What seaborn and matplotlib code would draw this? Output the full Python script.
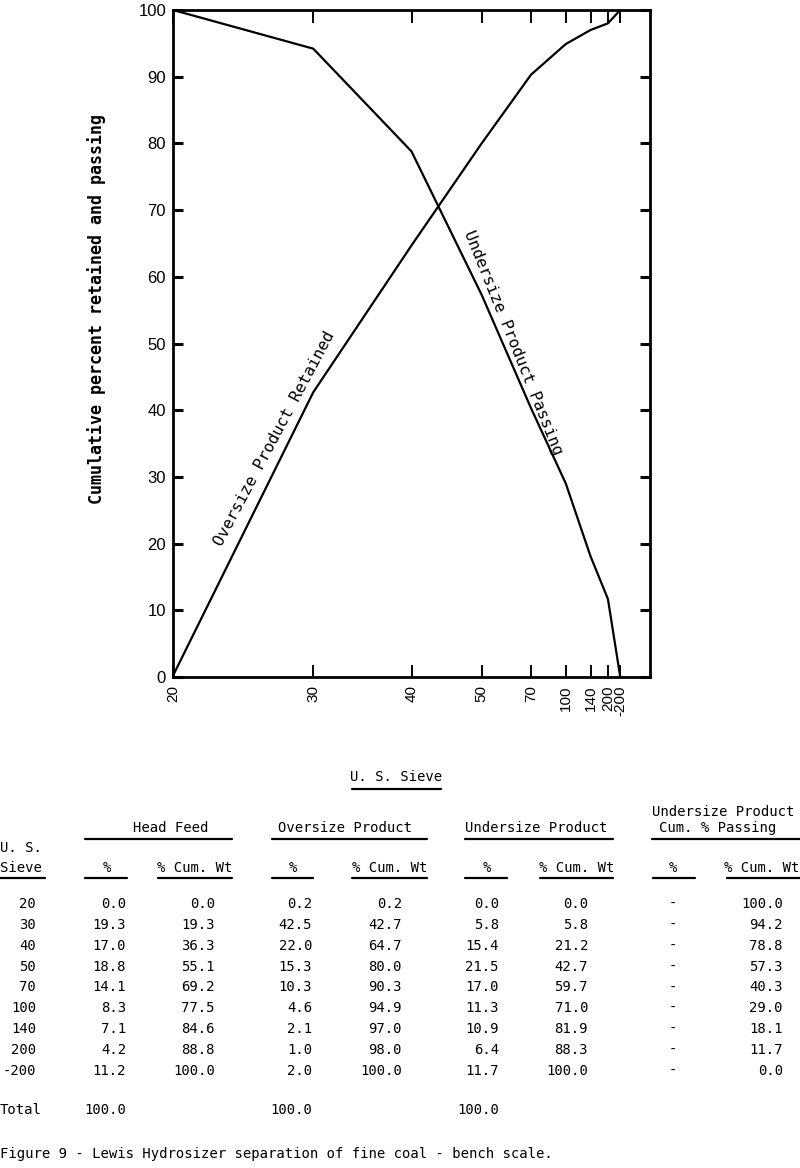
import matplotlib
matplotlib.use("Agg")
import matplotlib.pyplot as plt
from matplotlib.lines import Line2D
import seaborn as sns
import pandas as pd

# ---------------- data ----------------
sieve_labels = ["20", "30", "40", "50", "70", "100", "140", "200", "-200"]
# sieve opening (micrometres) used as the x scale of the chart (-200 plotted at 270 mesh, 53 um)
sieve_opening = [850, 600, 425, 300, 212, 150, 106, 75, 53]
head_pct = ["0.0", "19.3", "17.0", "18.8", "14.1", "8.3", "7.1", "4.2", "11.2"]
head_cum = ["0.0", "19.3", "36.3", "55.1", "69.2", "77.5", "84.6", "88.8", "100.0"]
over_pct = ["0.2", "42.5", "22.0", "15.3", "10.3", "4.6", "2.1", "1.0", "2.0"]
over_cum = [0.2, 42.7, 64.7, 80.0, 90.3, 94.9, 97.0, 98.0, 100.0]
under_pct = ["0.0", "5.8", "15.4", "21.5", "17.0", "11.3", "10.9", "6.4", "11.7"]
under_cum = ["0.0", "5.8", "21.2", "42.7", "59.7", "71.0", "81.9", "88.3", "100.0"]
pass_pct = ["-"] * 9
pass_cum = [100.0, 94.2, 78.8, 57.3, 40.3, 29.0, 18.1, 11.7, 0.0]
totals = {"head": "100.0", "over": "100.0", "under": "100.0"}
y_ticks = [0, 10, 20, 30, 40, 50, 60, 70, 80, 90, 100]

# ---------------- style ----------------
sns.set_style("ticks")
plt.rcParams["font.family"] = ["Liberation Sans Narrow", "Liberation Sans", "DejaVu Sans"]
plt.rcParams["text.color"] = "black"
MONO = ["DejaVu Sans Mono", "Liberation Mono"]

W, H = 800, 1168
fig = plt.figure(figsize=(W / 100, H / 100), dpi=100)
fig.patch.set_facecolor("white")


def fx(x):
    return x / W


def fy(y):
    return 1 - y / H


ax = fig.add_axes([fx(173), fy(677), (650 - 173) / W, (677 - 10) / H])

df = pd.DataFrame({"opening": sieve_opening, "over": over_cum, "passing": pass_cum})
sns.lineplot(data=df, x="opening", y="over", ax=ax, color="black", lw=1.6, sort=False)
sns.lineplot(data=df, x="opening", y="passing", ax=ax, color="black", lw=1.6, sort=False)

ax.set_xlim(850, 0)
ax.set_ylim(0, 100)
ax.set_xlabel("")
ax.set_ylabel("")
for s in ax.spines.values():
    s.set_visible(True)
    s.set_linewidth(2.0)
    s.set_color("black")

ax.set_yticks(y_ticks)
ax.set_yticklabels([str(v) for v in y_ticks], fontsize=12)
ax.tick_params(axis="y", direction="in", left=True, right=True, length=7,
               width=2.2, pad=5, colors="black")
ax.set_xticks(sieve_opening)
ax.set_xticklabels(sieve_labels, rotation=90, fontsize=11, va="top")
ax.tick_params(axis="x", direction="in", bottom=True, top=True, length=9,
               width=1.4, pad=6, colors="black")

# curve labels
fig.text(fx(275), fy(439), "Oversize Product Retained", rotation=62, color="black",
         ha="center", va="center", rotation_mode="anchor", family=MONO, fontsize=11.5)
fig.text(fx(513), fy(343), "Undersize Product Passing", rotation=-68, color="black",
         ha="center", va="center", rotation_mode="anchor", family=MONO, fontsize=11.5)
fig.text(fx(97), fy(309), "Cumulative percent retained and passing", rotation=90,
         color="black", ha="center", va="center", family=MONO, fontsize=12,
         fontweight="bold")

# ---------------- table ----------------
TFS = 10.0


def t(x, y, s, ha="center"):
    fig.text(fx(x), fy(y), s, ha=ha, va="center", family=MONO, fontsize=TFS,
             color="black")


def uline(x0, x1, y, lw=1.6):
    fig.add_artist(Line2D([fx(x0), fx(x1)], [fy(y), fy(y)], transform=fig.transFigure,
                          color="black", lw=lw))


t(396, 777, "U. S. Sieve")
uline(352, 441, 789)

t(723, 812, "Undersize Product")
t(171, 828, "Head Feed")
t(345, 828, "Oversize Product")
t(536, 828, "Undersize Product")
t(718, 828, "Cum. % Passing")
for x0, x1 in [(85, 232), (272, 427), (465, 613), (652, 800)]:
    uline(x0, x1, 839)

t(0, 848, "U. S.", ha="left")
t(0, 868, "Sieve", ha="left")
uline(0, 45, 878)
for c, (x0, x1), s in [(107, (85, 127), "%"), (195, (158, 232), "% Cum. Wt"),
                       (293, (272, 313), "%"), (390, (352, 427), "% Cum. Wt"),
                       (487, (465, 507), "%"), (577, (540, 613), "% Cum. Wt"),
                       (673, (653, 695), "%"), (762, (727, 800), "% Cum. Wt")]:
    t(c, 868, s)
    uline(x0, x1, 878)

cols = [
    (36, sieve_labels, "right"),
    (126, head_pct, "right"),
    (215, head_cum, "right"),
    (312, over_pct, "right"),
    (402, [f"{v:.1f}" for v in over_cum], "right"),
    (499, under_pct, "right"),
    (588, under_cum, "right"),
    (673, pass_pct, "center"),
    (783, [f"{v:.1f}" for v in pass_cum], "right"),
]
for i in range(len(sieve_labels)):
    y = 904 + i * 20.85
    for x, vals, ha in cols:
        t(x, y, vals[i], ha=ha)

t(0, 1110, "Total", ha="left")
t(126, 1110, totals["head"], ha="right")
t(312, 1110, totals["over"], ha="right")
t(499, 1110, totals["under"], ha="right")

t(0, 1154, "Figure 9 - Lewis Hydrosizer separation of fine coal - bench scale.", ha="left")

fig.savefig("out.png", dpi=100, facecolor="white")
